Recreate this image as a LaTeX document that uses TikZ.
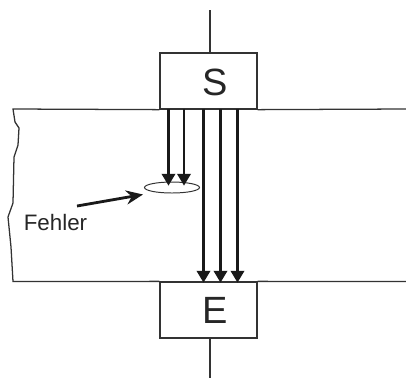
\documentclass[tikz,border=0pt]{standalone}
\usepackage{fontspec}
\setmainfont{Liberation Sans}
\usetikzlibrary{arrows.meta}
\tikzset{
    blockbox/.style={draw=black!80,line width=0.9pt,minimum width=2.425cm,minimum height=1.4cm,inner sep=0pt},
    thinline/.style={draw=black!80,line width=0.9pt},
    rayline/.style={draw=black!90,line width=1.9pt,-{Triangle[length=8.5pt,width=9.5pt]},shorten >=-0.5pt}
}
\begin{document}
\begin{tikzpicture}[x=0.025cm,y=-0.025cm]
            \useasboundingbox (0,0) rectangle (406,378);

            \node[blockbox] (s) at (208.5,81) {};
            \node[blockbox] (e) at (208.5,310) {};
            \node[font=\fontsize{27}{30}\selectfont,text=black!85] (slabel) at (215,82) {S};
            \node[font=\fontsize{27}{30}\selectfont,text=black!85] (elabel) at (215,310) {E};

            \coordinate (top) at (210,10);
            \coordinate (bottom) at (210,378);
            \draw[thinline](top)--(top|-s.north);
            \draw[thinline](bottom|-e.south)--(bottom);

            % plate
            \coordinate (pa) at (406,109);
            \coordinate (pb) at (406,281.5);
            \draw[thinline](pa)--(s.south east);
            \draw[thinline](s.south west)--(13,109)--(15,122)--(19,128)--(18,145)--(14,157)--(13,203)--(8,217)--(11,247)--(13,281.5)--(e.north west);
            \draw[thinline](e.north east)--(pb);

            % short arrows
            \coordinate (f) at (172,187.5);
            \draw[thinline,line width=0.7pt](f)ellipse[x radius=27.5,y radius=5.5];
            \foreach \x in {168.5,184}{
                \coordinate (r) at (\x,109);
                \coordinate (t) at (\x,185);
                \draw[rayline](r)--(t);
            }

            % long arrows
            \foreach \x in {203.5,220.5,237.5}{
                \coordinate (r) at (\x,109);
                \coordinate (t) at (\x,282);
                \draw[rayline](r)--(t);
            }

            \node[font=\fontsize{15.9}{18}\selectfont,text=black!85] (fehler) at (55.5,222) {Fehler};
            \coordinate (fa) at (77,206);
            \coordinate (fb) at (143,194.5);
            \draw[draw=black!90,line width=2pt,-{Stealth[length=12pt,width=10pt]}](fa)--(fb);
        \end{tikzpicture}
\end{document}
